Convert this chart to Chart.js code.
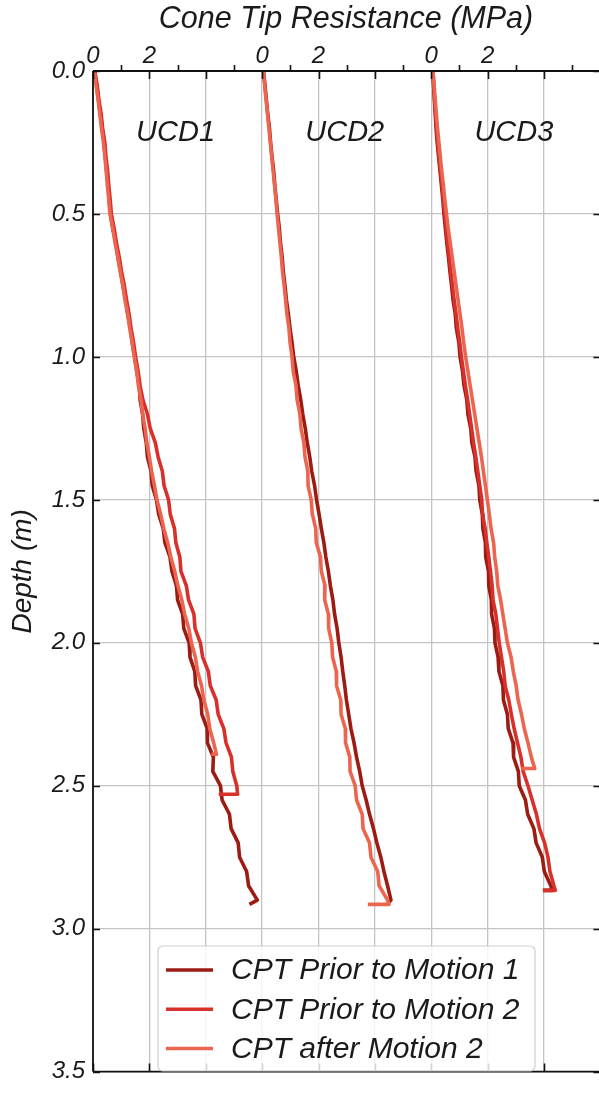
<!DOCTYPE html>
<html><head><meta charset="utf-8">
<script src="https://cdn.jsdelivr.net/npm/chart.js@4.4.1/dist/chart.umd.min.js"></script>
<style>html,body{margin:0;padding:0;background:#fff}#wrap{width:599px;height:1094px;position:relative}</style>
</head><body><div id="wrap"><canvas id="c"></canvas></div>
<script>
// ---- data (depth in m, cone tip resistance in MPa) ----
const sites = ['UCD1', 'UCD2', 'UCD3'];
const seriesNames = ['CPT Prior to Motion 1', 'CPT Prior to Motion 2', 'CPT after Motion 2'];
const depth = [0,0.05,0.1,0.15,0.2,0.25,0.3,0.35,0.4,0.45,0.5,0.55,0.6,0.65,0.7,0.75,0.8,0.85,0.9,0.95,1,1.05,1.1,1.15,1.2,1.25,1.3,1.35,1.4,1.45,1.5,1.55,1.6,1.65,1.7,1.75,1.8,1.85,1.9,1.95,2,2.05,2.1,2.15,2.2,2.25,2.3,2.35,2.4,2.45,2.5,2.55,2.6,2.65,2.7,2.75,2.8,2.85,2.9];
const xTickValues = [0, 2, 4, 6, 8, 10, 12, 14, 16];
const xTickLabels = ['0', '2', '', '0', '2', '', '0', '2', ''];
const yTickValues = [0, 0.5, 1, 1.5, 2, 2.5, 3, 3.5];

const ucd1Prior1 = [0.05,0.13,0.19,0.26,0.33,0.39,0.44,0.48,0.54,0.57,
  0.62,0.70,0.81,0.88,0.98,1.06,1.16,1.23,1.33,1.39,
  1.48,1.55,1.64,1.67,1.76,1.80,1.89,1.93,2.06,2.10,
  2.25,2.33,2.49,2.55,2.73,2.80,2.96,3.00,3.18,3.22,
  3.41,3.44,3.61,3.64,3.83,3.86,4.05,4.06,4.27,4.25,
  4.52,4.58,4.84,4.90,5.15,5.20,5.45,5.52,5.83];
const ucd1Prior1End = [[2.915, 5.55]];
const ucd1Prior2 = [0.06,0.15,0.21,0.29,0.34,0.42,0.46,0.52,0.56,0.61,
  0.65,0.75,0.83,0.93,1.01,1.11,1.19,1.28,1.35,1.44,
  1.51,1.60,1.67,1.77,1.93,2.03,2.21,2.31,2.46,2.52,
  2.68,2.74,2.89,2.94,3.08,3.12,3.31,3.39,3.58,3.62,
  3.81,3.89,4.09,4.16,4.37,4.44,4.64,4.72,4.91,4.96,
  5.10];
const ucd1Prior2End = [[2.53, 5.13], [2.53, 4.46]];
const ucd1After2 = [0.04,0.11,0.18,0.24,0.30,0.37,0.42,0.47,0.51,0.56,
  0.60,0.70,0.78,0.88,0.96,1.06,1.13,1.23,1.30,1.39,
  1.46,1.55,1.61,1.70,1.76,1.85,1.91,2.00,2.08,2.18,
  2.27,2.40,2.51,2.65,2.76,2.90,3.01,3.15,3.25,3.40,
  3.49,3.63,3.71,3.85,3.93,4.07,4.14,4.28];
const ucd1After2End = [[2.39, 4.38], [2.39, 4.20]];

const ucd2Prior1 = [0.05,0.10,0.15,0.20,0.26,0.30,0.35,0.41,0.45,0.50,
  0.55,0.61,0.65,0.71,0.75,0.81,0.86,0.93,0.99,1.06,
  1.12,1.21,1.28,1.37,1.44,1.53,1.60,1.69,1.76,1.86,
  1.93,2.02,2.10,2.19,2.26,2.35,2.42,2.51,2.57,2.66,
  2.72,2.80,2.86,2.93,2.99,3.07,3.15,3.26,3.35,3.46,
  3.55,3.69,3.81,3.95,4.07,4.21,4.32,4.45,4.57];
const ucd2Prior1End = [[2.91, 4.47]];
const ucd2After2 = [0.05,0.09,0.14,0.19,0.24,0.29,0.34,0.39,0.44,0.49,
  0.53,0.58,0.63,0.68,0.72,0.78,0.83,0.88,0.95,0.99,
  1.06,1.10,1.20,1.24,1.34,1.38,1.48,1.52,1.62,1.63,
  1.74,1.78,1.90,1.92,2.07,2.10,2.23,2.22,2.35,2.36,
  2.47,2.50,2.63,2.64,2.79,2.80,2.95,2.96,3.11,3.12,
  3.30,3.35,3.55,3.58,3.81,3.86,4.10,4.15,4.45];
const ucd2After2End = [[2.915, 4.50], [2.915, 3.75]];

const ucd3Prior1 = [0.05,0.08,0.11,0.14,0.17,0.21,0.26,0.31,0.36,0.41,
  0.45,0.50,0.55,0.61,0.66,0.72,0.77,0.85,0.89,0.98,
  1.02,1.11,1.16,1.26,1.30,1.40,1.44,1.55,1.59,1.69,
  1.72,1.81,1.83,1.92,1.93,2.03,2.04,2.13,2.14,2.24,
  2.26,2.37,2.40,2.54,2.56,2.70,2.73,2.90,2.92,3.09,
  3.12,3.34,3.42,3.64,3.72,3.94,4.01,4.24];
const ucd3Prior1End = [[2.866, 4.30], [2.866, 3.96]];
const ucd3Prior2 = [0.06,0.09,0.12,0.15,0.19,0.23,0.28,0.33,0.38,0.43,
  0.48,0.53,0.58,0.64,0.69,0.75,0.81,0.88,0.94,1.01,
  1.07,1.14,1.21,1.29,1.36,1.43,1.50,1.58,1.65,1.72,
  1.79,1.82,1.91,1.97,2.04,2.10,2.16,2.19,2.29,2.35,
  2.41,2.49,2.57,2.62,2.75,2.84,2.94,3.06,3.18,3.26,
  3.43,3.58,3.73,3.84,4.02,4.14,4.21,4.35];
const ucd3Prior2End = [[2.866, 4.40], [2.866, 3.96]];
const ucd3After2 = [0.06,0.10,0.14,0.18,0.22,0.27,0.32,0.37,0.43,0.48,
  0.54,0.60,0.67,0.74,0.81,0.88,0.95,1.02,1.09,1.15,
  1.22,1.30,1.38,1.46,1.54,1.62,1.70,1.78,1.85,1.92,
  1.99,2.06,2.12,2.21,2.25,2.32,2.36,2.46,2.54,2.62,
  2.70,2.83,2.91,3.01,3.08,3.20,3.30,3.43,3.55];
const ucd3After2End = [[2.44, 3.67], [2.44, 3.19]];

// each panel is shifted along the shared MPa axis
const panelOffset = [0, 6, 12];

const runs = [
  {site: 0, kind: 0, qc: ucd1Prior1, end: ucd1Prior1End},
  {site: 0, kind: 1, qc: ucd1Prior2, end: ucd1Prior2End},
  {site: 0, kind: 2, qc: ucd1After2, end: ucd1After2End},
  {site: 1, kind: 0, qc: ucd2Prior1, end: ucd2Prior1End},
  {site: 1, kind: 2, qc: ucd2After2, end: ucd2After2End},
  {site: 2, kind: 0, qc: ucd3Prior1, end: ucd3Prior1End},
  {site: 2, kind: 1, qc: ucd3Prior2, end: ucd3Prior2End},
  {site: 2, kind: 2, qc: ucd3After2, end: ucd3After2End}
];

// ---- styles ----
const seriesColors = ['#9c1b13', '#d8302a', '#ec6550'];
const FONT = '"Liberation Sans", Arial, Helvetica, sans-serif';
const TXT = '#1a1a1a';
const GRID = '#c4c4c4';

const datasets = runs.map(r => {
  const off = panelOffset[r.site];
  const pts = r.qc.map((q, i) => ({x: off + q, y: depth[i]}));
  r.end.forEach(p => pts.push({x: off + p[1], y: p[0]}));
  return {
    label: sites[r.site] + ' ' + seriesNames[r.kind],
    data: pts,
    showLine: true,
    borderColor: seriesColors[r.kind],
    backgroundColor: seriesColors[r.kind],
    borderWidth: 3.6,
    borderJoinStyle: 'round',
    pointRadius: 0,
    pointHoverRadius: 0,
    tension: 0,
    order: 3 - r.kind
  };
});

const decor = {
  id: 'decor',
  afterDraw(chart) {
    const {ctx, chartArea: a, scales: {x, y}} = chart;
    const xr = x.getPixelForValue(18);
    ctx.save();
    // spines
    ctx.strokeStyle = '#111';
    ctx.lineWidth = 1.8;
    ctx.beginPath();
    ctx.moveTo(a.left, a.top); ctx.lineTo(xr, a.top);
    ctx.moveTo(a.left, a.top); ctx.lineTo(a.left, a.bottom);
    ctx.moveTo(a.left, a.bottom); ctx.lineTo(xr, a.bottom);
    ctx.moveTo(xr, a.top); ctx.lineTo(xr, a.bottom);
    ctx.stroke();
    // ticks
    ctx.lineWidth = 1.6;
    ctx.beginPath();
    for (let v = 0; v <= 17; v++) {
      const px = Math.round(x.getPixelForValue(v)) + 0.5;
      if (v % 2 === 0) {
        ctx.moveTo(px, a.top); ctx.lineTo(px, a.top + 8);
        ctx.moveTo(px, a.bottom); ctx.lineTo(px, a.bottom - 8);
      } else {
        ctx.moveTo(px, a.top); ctx.lineTo(px, a.top - 6);
      }
    }
    yTickValues.forEach(v => {
      const py = Math.round(y.getPixelForValue(v)) + 0.5;
      ctx.moveTo(a.left, py); ctx.lineTo(a.left + 7, py);
      ctx.moveTo(xr, py); ctx.lineTo(xr - 7, py);
    });
    ctx.stroke();
    // panel labels
    ctx.fillStyle = TXT;
    ctx.font = 'italic 29px ' + FONT;
    ctx.textAlign = 'center';
    ctx.textBaseline = 'middle';
    sites.forEach((s, i) => {
      ctx.fillText(s, x.getPixelForValue(panelOffset[i] + 2.93), y.getPixelForValue(0.218));
    });
    // legend
    const bx = 158, by = 946, bw = 377, bh = 125, rad = 5;
    ctx.beginPath();
    ctx.moveTo(bx + rad, by);
    ctx.arcTo(bx + bw, by, bx + bw, by + bh, rad);
    ctx.arcTo(bx + bw, by + bh, bx, by + bh, rad);
    ctx.arcTo(bx, by + bh, bx, by, rad);
    ctx.arcTo(bx, by, bx + bw, by, rad);
    ctx.closePath();
    ctx.fillStyle = 'rgba(255,255,255,0.82)';
    ctx.fill();
    ctx.strokeStyle = '#cfcfcf';
    ctx.lineWidth = 1.2;
    ctx.stroke();
    ctx.font = 'italic 30px ' + FONT;
    ctx.textAlign = 'left';
    seriesNames.forEach((n, i) => {
      const ly = 970 + i * 39.3;
      ctx.strokeStyle = seriesColors[i];
      ctx.lineWidth = 3.5;
      ctx.beginPath();
      ctx.moveTo(166, ly); ctx.lineTo(213, ly);
      ctx.stroke();
      ctx.fillStyle = TXT;
      ctx.fillText(n, 231, ly + 1);
    });
    ctx.restore();
  }
};

new Chart(document.getElementById('c'), {
  type: 'scatter',
  data: {datasets},
  options: {
    responsive: true,
    maintainAspectRatio: false,
    animation: false,
    devicePixelRatio: 1,
    layout: {padding: {left: 0, right: 0, top: 0, bottom: 13}},
    plugins: {legend: {display: false}, tooltip: {enabled: false}},
    scales: {
      x: {
        type: 'linear', position: 'top', min: 0, max: 17.95,
        afterBuildTicks(s) { s.ticks = xTickValues.map(v => ({value: v})); },
        ticks: {
          autoSkip: false, maxRotation: 0, padding: 0, color: TXT,
          font: {family: FONT, size: 24, style: 'italic'},
          callback: (v) => { const i = xTickValues.indexOf(v); return i >= 0 ? xTickLabels[i] : ''; }
        },
        grid: {color: GRID, lineWidth: 1.3, drawTicks: false},
        border: {display: false},
        title: {display: true, text: 'Cone Tip Resistance (MPa)', color: TXT,
          font: {family: FONT, size: 30.5, style: 'italic'}, padding: {top: 1, bottom: 0}},
        afterFit(s) { s.height = 71; }
      },
      y: {
        type: 'linear', reverse: true, min: 0, max: 3.5,
        afterBuildTicks(s) { s.ticks = yTickValues.map(v => ({value: v})); },
        ticks: {
          padding: 8, color: TXT,
          font: {family: FONT, size: 24, style: 'italic'},
          callback: (v) => Number(v).toFixed(1)
        },
        grid: {color: GRID, lineWidth: 1.3, drawTicks: false},
        border: {display: false},
        title: {display: true, text: 'Depth (m)', color: TXT,
          font: {family: FONT, size: 28, style: 'italic'}, padding: {top: 6, bottom: 0}},
        afterFit(s) { s.width = 93; }
      }
    }
  },
  plugins: [decor]
});
</script></body></html>
